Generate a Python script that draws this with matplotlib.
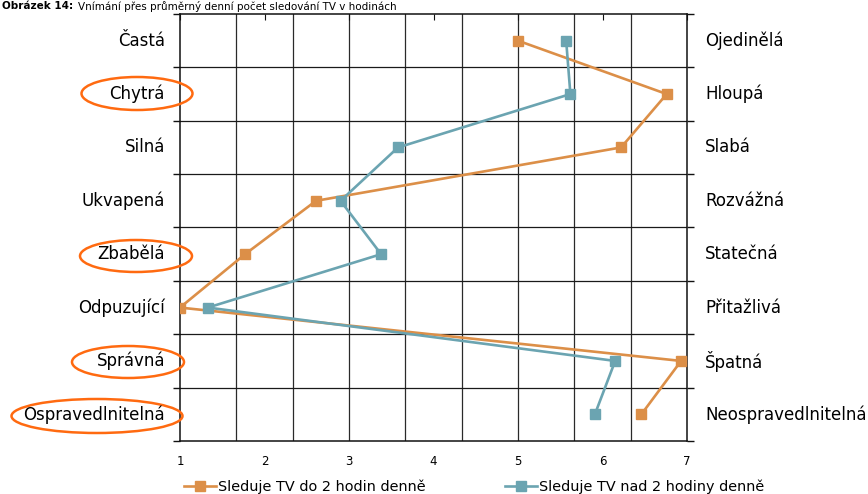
import matplotlib
matplotlib.use("Agg")
import matplotlib.pyplot as plt
from matplotlib.patches import Ellipse
import numpy as np

plt.rcParams['font.family'] = ['DejaVu Sans']

left_labels = ["Častá", "Chytrá", "Silná", "Ukvapená", "Zbabělá", "Odpuzující", "Správná", "Ospravedlnitelná"]
right_labels = ["Ojedinělá", "Hloupá", "Slabá", "Rozvážná", "Statečná", "Přitažlivá", "Špatná", "Neospravedlnitelná"]
series_names = ["Sleduje TV do 2 hodin denně", "Sleduje TV nad 2 hodiny denně"]
do2 = [5.0, 6.76, 6.22, 2.61, 1.77, 1.0, 6.93, 6.46]
nad2 = [5.57, 5.62, 3.58, 2.90, 3.38, 1.33, 6.15, 5.91]
x_ticks = [1, 2, 3, 4, 5, 6, 7]
circled = ["Chytrá", "Zbabělá", "Správná", "Ospravedlnitelná"]

W, H = 868, 494
fig = plt.figure(figsize=(W / 100, H / 100), dpi=100)
ax = fig.add_axes([180 / W, 1 - 441 / H, (687 - 180) / W, (441 - 14) / H])

n = len(left_labels)
ypos = np.arange(n) + 0.5

orange = '#DC8F48'
teal = '#6BA4B1'
ax.plot(do2, ypos, color=orange, lw=1.9, marker='s', ms=7, label=series_names[0], zorder=3)
ax.plot(nad2, ypos, color=teal, lw=1.9, marker='s', ms=7, label=series_names[1], zorder=3)

ax.set_xlim(1, 7)
ax.set_ylim(n, 0)

# grid
for gx in np.linspace(1, 7, 10)[1:-1]:
    ax.axvline(gx, color='#2a2a2a', lw=0.9, zorder=1)
for gy in range(1, n):
    ax.axhline(gy, color='#1a1a1a', lw=0.9, zorder=1)

for s in ax.spines.values():
    s.set_color('#111111')
    s.set_linewidth(1.1)

ax.set_xticks(x_ticks)
ax.set_xticklabels([str(v) for v in x_ticks], fontsize=8.5)
ax.tick_params(axis='x', bottom=False, top=True, direction='in', length=4,
               pad=10, labelbottom=True, labeltop=False, color='#111111')
ax.set_yticks(range(0, n + 1))
ax.set_yticklabels([])
ax.tick_params(axis='y', left=True, right=True, direction='out', length=5,
               color='#111111', width=1)

for i, (l, r) in enumerate(zip(left_labels, right_labels)):
    fig.text(165 / W, 1 - (40.7 + i * 53.4) / H, l, ha='right', va='center', fontsize=12)
    fig.text(705 / W, 1 - (40.7 + i * 53.4) / H, r, ha='left', va='center', fontsize=12)

# ellipses (figure pixel coordinates)
ell = {"Chytrá": (137, 93.5, 111, 33), "Zbabělá": (136, 256, 112, 32),
       "Správná": (128, 362, 112, 32), "Ospravedlnitelná": (97, 416, 171, 34)}
for name in circled:
    cx, cy, w, h = ell[name]
    e = Ellipse((cx / W, 1 - cy / H), w / W, h / H, transform=fig.transFigure,
                fill=False, edgecolor='#FF6A10', lw=1.8)
    fig.add_artist(e)

# title (kept small so it fits above the plot)
t1 = fig.text(2 / W, 1 - 1 / H, "Obrázek 14:", fontsize=7.5, fontweight='bold', va='top', ha='left')
fig.canvas.draw()
bb = t1.get_window_extent()
fig.text((bb.x1 + 5) / W, 1 - 1 / H, "Vnímání přes průměrný denní počet sledování TV v hodinách",
         fontsize=7.5, va='top', ha='left')

leg = fig.legend(loc='center', bbox_to_anchor=(474 / W, 1 - 487 / H), ncol=2, frameon=False,
                 fontsize=10.4, handlelength=2.2, handletextpad=0.15, columnspacing=5.5,
                 borderaxespad=0, borderpad=0)

fig.savefig('out.png', dpi=100)
